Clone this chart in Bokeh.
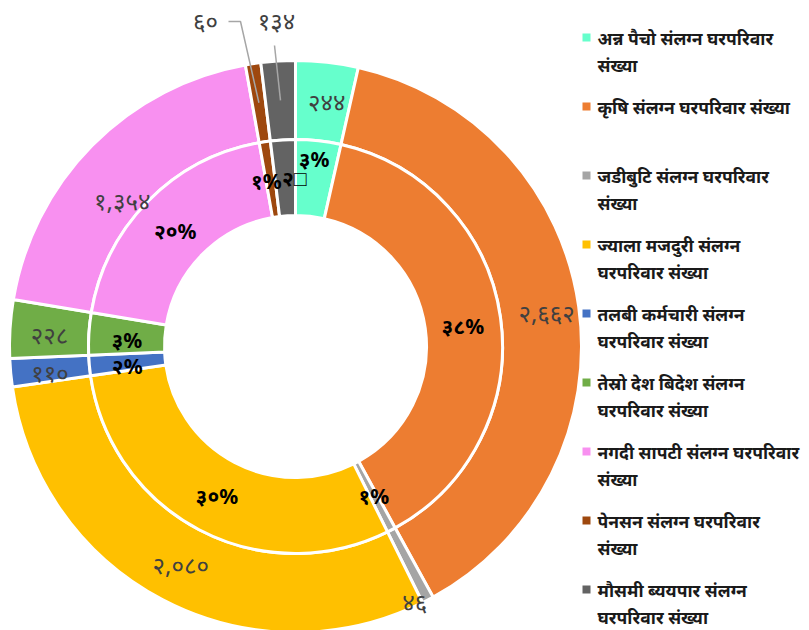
import math
from bokeh.plotting import figure
from bokeh.models import Range1d, ColumnDataSource
from bokeh.core.properties import value
from bokeh.embed import file_html
from bokeh.resources import INLINE

# ---------------- data ----------------
categories = [
    "अन्न पैचो संलग्न घरपरिवार\nसंख्या",
    "कृषि संलग्न घरपरिवार संख्या",
    "जडीबुटि संलग्न घरपरिवार\nसंख्या",
    "ज्याला मजदुरी संलग्न\nघरपरिवार संख्या",
    "तलबी कर्मचारी संलग्न\nघरपरिवार संख्या",
    "तेस्रो देश बिदेश संलग्न\nघरपरिवार संख्या",
    "नगदी सापटी संलग्न घरपरिवार\nसंख्या",
    "पेनसन संलग्न घरपरिवार\nसंख्या",
    "मौसमी ब्ययपार संलग्न\nघरपरिवार संख्या",
]
households = [244, 2662, 46, 2080, 110, 228, 1354, 60, 134]
percent_labels = ["३%", "३८%", "१%", "३०%", "२%", "३%", "२०%", "१%", "२□"]
colors = ["#66FFCC", "#ED7D31", "#A5A5A5", "#FFC000", "#4472C4",
          "#70AD47", "#F890F0", "#9E480E", "#636363"]

# ---------------- layout ----------------
W, H = 809, 630
CX, CY = 295, H - 346
R_OUT, R_MID, R_IN = 286, 207, 131
# label nudges (px, screen coords: +x right, +y down)
outer_nudge = [(4, 0), (7, 0), (5, 37), (0, 0), (0, 3), (0, 3), (2, 27), (0, 0), (0, 0)]
inner_nudge = [(0, -20), (0, 3), (0, 0), (0, 0), (0, 4), (0, 4), (0, 3), (-4, 2), (9, 0)]
leader_idx = [7, 8]
leader_label_pos = {7: (205, 20), 8: (276, 20)}
leader_knee = {7: [(240, 21), (228, 21)], 8: [(274, 45)]}

DEV = str.maketrans("0123456789", "०१२३४५६७८९")


def dev(n):
    return "{:,}".format(n).translate(DEV)


total = sum(households)
starts, ends, mids = [], [], []
acc = 0.0
for v in households:
    t0 = acc / total * 2 * math.pi
    acc += v
    t1 = acc / total * 2 * math.pi
    # clockwise from 12 o'clock -> bokeh angle
    starts.append(math.pi / 2 - t1)
    ends.append(math.pi / 2 - t0)
    mids.append((t0 + t1) / 2)

p = figure(width=W, height=H, x_range=Range1d(0, W), y_range=Range1d(0, H),
           output_backend="svg", toolbar_location=None,
           x_axis_type=None, y_axis_type=None, min_border=0)
p.outline_line_color = None
p.grid.visible = False
p.background_fill_color = "white"
p.border_fill_color = "white"

src = ColumnDataSource(dict(x=[CX] * len(households), y=[CY] * len(households),
                            s=starts, e=ends, c=colors))
p.annular_wedge(x="x", y="y", inner_radius=R_MID, outer_radius=R_OUT,
                start_angle="s", end_angle="e", fill_color="c",
                line_color="white", line_width=3, source=src)
p.annular_wedge(x="x", y="y", inner_radius=R_IN, outer_radius=R_MID,
                start_angle="s", end_angle="e", fill_color="c",
                line_color="white", line_width=3, source=src)

# outer labels (counts)
ox, oy, ot = [], [], []
r_lab_out = (R_MID + R_OUT) / 2
for i, v in enumerate(households):
    if i in leader_idx:
        lx, ly = leader_label_pos[i]
        px0 = CX + r_lab_out * math.sin(mids[i])
        py0 = (H - CY) - r_lab_out * math.cos(mids[i])
        pts = [(px0, py0)] + leader_knee[i]
        p.line([q[0] for q in pts], [H - q[1] for q in pts],
               line_color="#A6A6A6", line_width=1.5)
        ox.append(lx)
        oy.append(H - ly)
    else:
        dx, dy = outer_nudge[i]
        ox.append(CX + r_lab_out * math.sin(mids[i]) + dx)
        oy.append(CY + r_lab_out * math.cos(mids[i]) - dy)
    ot.append(dev(v))
p.text(x=ox, y=oy, text=ot, text_align="center", text_baseline="middle",
       text_font=value("Noto Sans"), text_font_size="24px", text_color="#404040")

# inner labels (percent)
ix, iy = [], []
r_lab_in = (R_IN + R_MID) / 2
for i in range(len(households)):
    dx, dy = inner_nudge[i]
    ix.append(CX + r_lab_in * math.sin(mids[i]) + dx)
    iy.append(CY + r_lab_in * math.cos(mids[i]) - dy)
p.text(x=ix, y=iy, text=percent_labels, text_align="center", text_baseline="middle",
       text_font=value("Noto Sans"), text_font_size="21px", text_font_style="bold",
       text_color="black")

# legend
LX_SQ, LX_TX, LY0, LSTEP, LLINE = 586, 597, 37, 69, 27
sq_x, sq_y, tx, ty, tt = [], [], [], [], []
for i, name in enumerate(categories):
    yc = LY0 + i * LSTEP
    sq_x.append(LX_SQ)
    sq_y.append(H - yc)
    for j, line in enumerate(name.split("\n")):
        tx.append(LX_TX)
        ty.append(H - (yc + j * LLINE))
        tt.append(line)
p.rect(x=sq_x, y=sq_y, width=8, height=8, fill_color=colors, line_color=None)
p.text(x=tx, y=ty, text=tt, text_align="left", text_baseline="middle",
       text_font=value("Noto Sans"), text_font_size="17.5px", text_font_style="bold",
       text_color="#1a1a1a")

open("out.html", "w").write(file_html(p, INLINE))
